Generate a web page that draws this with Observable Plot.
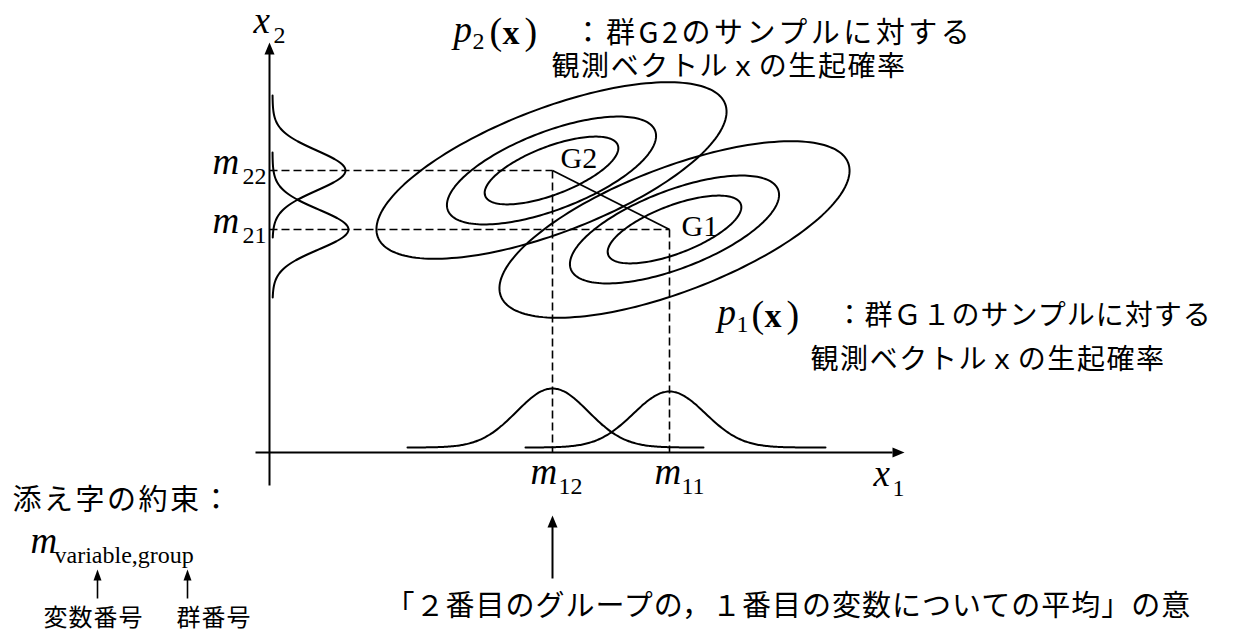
<!DOCTYPE html>
<html><head><meta charset="utf-8">
<script src="https://cdn.jsdelivr.net/npm/d3@7"></script>
<script src="https://cdn.jsdelivr.net/npm/@observablehq/plot@0.6"></script>
<style>body{margin:0;background:#fff}</style>
</head><body><div id="chart"></div>
<script>
// ---- values (diagram units: origin at the axes' crossing, x2 upward) ----
const groups = ["G1", "G2"];
const meanX1 = [400, 283];          // m11, m12
const meanX2 = [223, 282];          // m21, m22
const sdX1 = [36, 36];              // spread of the x1 marginals
const sdX2 = [20, 20];              // spread of the x2 marginals
const peakX1 = [56, 59];            // marginal peak heights on the x1 axis
const peakX2 = [76, 73];            // marginal peak heights on the x2 axis
const spanX1 = [[-144, 156], [-145, 152]];  // drawn extent of x1 marginals
const spanX2 = [[-68, 77], [-67, 75]];      // drawn extent of x2 marginals
const contourCentre = [[405, 223], [282, 282]];
const contourAxes = [[71, 24], [111, 39], [186, 62]];
const contourTilt = 21;
const meanLabels = ["m11", "m12", "m21", "m22"];

const ox = 269, oy = 452;            // axis crossing in page pixels
const W = 1234, H = 632;
const u = (px, py) => ({x: px - ox, y: oy - py});
function pair(a, b) { return {x1: a.x, y1: a.y, x2: b.x, y2: b.y}; }

// ---- geometry built from the values ----
const ellipses = [];
groups.forEach((g, gi) => {
  const [cx, cy] = contourCentre[gi];
  const th = contourTilt * Math.PI / 180;
  contourAxes.forEach(([a, b], k) => {
    for (let i = 0; i <= 180; i++) {
      const t = i / 180 * 2 * Math.PI;
      ellipses.push({id: g + k,
        x: cx + a * Math.cos(t) * Math.cos(th) - b * Math.sin(t) * Math.sin(th),
        y: cy + a * Math.cos(t) * Math.sin(th) + b * Math.sin(t) * Math.cos(th)});
    }
  });
});
const margX1 = [], margX2 = [];
groups.forEach((g, gi) => {
  for (let d = spanX1[gi][0]; d <= spanX1[gi][1]; d += 2)
    margX1.push({g, x: meanX1[gi] + d, y: 5 + peakX1[gi] * Math.exp(-d * d / (2 * sdX1[gi] ** 2))});
  for (let d = spanX2[gi][0]; d <= spanX2[gi][1]; d += 1)
    margX2.push({g, y: meanX2[gi] + d, x: 3 + peakX2[gi] * Math.exp(-d * d / (2 * sdX2[gi] ** 2))});
});
const dashes = [
  {x1: 0, y1: meanX2[1], x2: meanX1[1], y2: meanX2[1]},
  {x1: 0, y1: meanX2[0], x2: meanX1[0], y2: meanX2[0]},
  {x1: meanX1[1], y1: meanX2[1], x2: meanX1[1], y2: 0},
  {x1: meanX1[0], y1: meanX2[0], x2: meanX1[0], y2: 0}
];
const connector = [{x1: meanX1[1], y1: meanX2[1], x2: meanX1[0], y2: meanX2[0]}];
const axesLines = [pair(u(255, oy), u(892, oy)), pair(u(ox, 485), u(ox, 53))];
const bigHeads = [{...u(904, oy), r: 90}, {...u(ox, 42), r: 0}, {x: meanX1[1], y: u(0, 515).y, r: 0}];
const annoLine = [{x1: meanX1[1], y1: u(0, 578).y, x2: meanX1[1], y2: u(0, 525).y}];
const legendLines = [pair(u(97, 598), u(97, 578)), pair(u(187, 598), u(187, 578))];
const smallHeads = [u(97, 569), u(187, 569)];

// text pieces
const italic = [
  {...u(253, 32), t: "x"}, {...u(873, 485), t: "x"},
  {...u(212, 173), t: "m"}, {...u(212, 232), t: "m"},
  {...u(530, 483), t: "m"}, {...u(654, 483), t: "m"},
  {...u(453, 41), t: "p"}, {...u(717, 324), t: "p"},
  {...u(30, 552), t: "m"}
];
const subs = [
  {...u(273, 42), t: "2"}, {...u(892, 495), t: "1"},
  {...u(242, 183), t: meanLabels[3].slice(1)}, {...u(242, 242), t: meanLabels[2].slice(1)},
  {...u(558, 493), t: meanLabels[1].slice(1)}, {...u(681, 493), t: meanLabels[0].slice(1)},
  {...u(472, 48), t: "2"}, {...u(736, 331), t: "1"}
];
const legendSub = [{...u(54, 562), t: "variable,group"}];
const parens = [
  {...u(489, 43), t: "("}, {...u(524, 43), t: ")"},
  {...u(751, 326), t: "("}, {...u(786, 326), t: ")"}
];
const boldX = [{...u(502, 43), t: "x"}, {...u(764, 326), t: "x"}];
const gLabels = [{...u(560, 167), t: "G2"}, {...u(681, 235), t: "G1"}];
const jpTop = [{...u(573, 42), t: "：群G2のサンプルに対する"}];
const jpHead = [{...u(835, 324), t: "：群Ｇ１のサンプルに対する"}];
const jpSecond = [
  {...u(551, 75), t: "観測ベクトルｘの生起確率"},
  {...u(810, 368), t: "観測ベクトルｘの生起確率"}
];
const jpRule = [{...u(12, 509), t: "添え字の約束："}];
const jpNote = [{...u(385, 615), t: "「２番目のグループの，１番目の変数についての平均」の意"}];
const jpSmall = [{...u(43, 625), t: "変数番号"}, {...u(176, 625), t: "群番号"}];

const head = (len, hw) => ({draw(ctx) { ctx.moveTo(0, 0); ctx.lineTo(hw, len); ctx.lineTo(-hw, len); ctx.closePath(); }});
const serif = "Liberation Serif, Times New Roman, serif";
const jpFont = "Noto Sans CJK JP";
const txt = (data, o) => Plot.text(data, {x: "x", y: "y", text: "t", textAnchor: "start", lineAnchor: "bottom", fill: "black", ...o});

const chart = Plot.plot({
  width: W, height: H, margin: 0,
  x: {domain: [-ox, W - ox], range: [0, W], axis: null},
  y: {domain: [oy - H, oy], range: [H, 0], axis: null},
  style: {background: "white"},
  marks: [
    Plot.line(ellipses, {x: "x", y: "y", z: "id", stroke: "black", strokeWidth: 2}),
    Plot.line(margX1, {x: "x", y: "y", z: "g", stroke: "black", strokeWidth: 2, curve: "basis"}),
    Plot.line(margX2, {x: "x", y: "y", z: "g", stroke: "black", strokeWidth: 2, curve: "basis"}),
    Plot.link(dashes, {x1: "x1", y1: "y1", x2: "x2", y2: "y2", stroke: "black", strokeWidth: 1.6, strokeDasharray: "8,4"}),
    Plot.link(connector, {x1: "x1", y1: "y1", x2: "x2", y2: "y2", stroke: "black", strokeWidth: 1.8}),
    Plot.link(axesLines, {x1: "x1", y1: "y1", x2: "x2", y2: "y2", stroke: "black", strokeWidth: 2}),
    Plot.link(annoLine, {x1: "x1", y1: "y1", x2: "x2", y2: "y2", stroke: "black", strokeWidth: 2}),
    Plot.link(legendLines, {x1: "x1", y1: "y1", x2: "x2", y2: "y2", stroke: "black", strokeWidth: 1.6}),
    Plot.dot(bigHeads, {x: "x", y: "y", rotate: "r", symbol: head(12, 5), fill: "black", stroke: "none"}),
    Plot.dot(smallHeads, {x: "x", y: "y", symbol: head(11, 4), fill: "black", stroke: "none"}),
    txt(italic, {fontFamily: serif, fontStyle: "italic", fontSize: 37}),
    txt(subs, {fontFamily: serif, fontSize: 24}),
    txt(legendSub, {fontFamily: serif, fontSize: 24}),
    txt(parens, {fontFamily: serif, fontSize: 38}),
    txt(boldX, {fontFamily: serif, fontWeight: "bold", fontSize: 34}),
    txt(gLabels, {fontFamily: serif, fontSize: 30}),
    txt(jpTop, {fontFamily: jpFont, fontSize: 29}),
    txt(jpHead, {fontFamily: jpFont, fontSize: 28}),
    txt(jpSecond, {fontFamily: jpFont, fontSize: 28}),
    txt(jpRule, {fontFamily: jpFont, fontSize: 29}),
    txt(jpNote, {fontFamily: jpFont, fontSize: 29}),
    txt(jpSmall, {fontFamily: jpFont, fontSize: 24})
  ]
});
document.getElementById("chart").appendChild(chart);

// letter spacing of the Japanese lines, matched by their text
const spacing = new Map([
  [jpTop[0].t, 3.5], [jpHead[0].t, 1], [jpSecond[0].t, 1.6],
  [jpRule[0].t, 2.5], [jpNote[0].t, 1], ["変数番号", 1], ["群番号", 1]
]);
d3.select(chart).selectAll("text").each(function() {
  const s = spacing.get(this.textContent);
  if (s) this.setAttribute("letter-spacing", s);
});
</script>
</body></html>
